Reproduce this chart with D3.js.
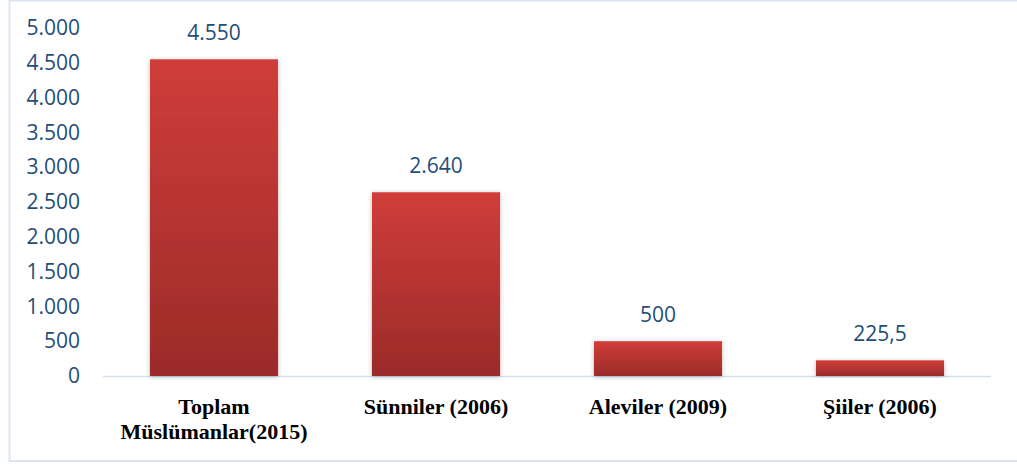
<!DOCTYPE html>
<html>
<head>
<meta charset="utf-8">
<script src="https://cdn.jsdelivr.net/npm/d3@7"></script>
<style>
  body { margin: 0; background: #fff; }
  svg { display: block; }
</style>
</head>
<body>
<svg id="chart" width="1017" height="464"></svg>
<script>
const categories = [["Toplam", "Müslümanlar(2015)"], ["Sünniler (2006)"], ["Aleviler (2009)"], ["Şiiler (2006)"]]
const values = [4550, 2640, 500, 225.5]
const valueLabels = ["4.550", "2.640", "500", "225,5"]
const yTicks = [0, 500, 1000, 1500, 2000, 2500, 3000, 3500, 4000, 4500, 5000]

const svg = d3.select('#chart')

// chart frame
svg.append('rect')
  .attr('x', 9.5).attr('y', 0.5)
  .attr('width', 1020).attr('height', 460.5)
  .attr('fill', 'none')
  .attr('stroke', '#dbe4f1')
  .attr('stroke-width', 2)

const x = d3.scaleBand().domain(d3.range(categories.length)).range([103, 991]).paddingInner(0.423).paddingOuter(0.2115)
const y = d3.scaleLinear().domain([0, 5000]).range([376, 28])

const defs = svg.append('defs')
const grad = defs.append('linearGradient')
  .attr('id', 'barGrad').attr('x1', 0).attr('y1', 0).attr('x2', 0).attr('y2', 1)
grad.append('stop').attr('offset', '0%').attr('stop-color', '#d03d3a')
grad.append('stop').attr('offset', '100%').attr('stop-color', '#9b2b29')

const shadow = defs.append('filter').attr('id', 'shadow')
  .attr('x', '-10%').attr('y', '-10%').attr('width', '120%').attr('height', '120%')
shadow.append('feDropShadow')
  .attr('dx', 0).attr('dy', 1).attr('stdDeviation', 2.5)
  .attr('flood-color', '#000').attr('flood-opacity', 0.25)

// baseline
svg.append('line')
  .attr('x1', 103).attr('x2', 991)
  .attr('y1', y(0) + 0.5).attr('y2', y(0) + 0.5)
  .attr('stroke', '#d5dff0').attr('stroke-width', 1.5)

const sans = '"Open Sans", "Noto Sans", sans-serif'
const serif = '"Liberation Serif", "Times New Roman", serif'

// y axis
const yAxis = d3.axisLeft(y).tickValues(yTicks).tickSize(0).tickPadding(0)
  .tickFormat(d => d3.format(',')(d).replace(/,/g, '.'))
svg.append('g')
  .attr('transform', 'translate(80,0)')
  .call(yAxis)
  .call(g => g.select('.domain').remove())
  .selectAll('text')
  .attr('fill', '#1f4e79')
  .style('font-family', sans)
  .style('font-size', '21px')

// bars
svg.selectAll('.bar')
  .data(values)
  .enter()
  .append('rect')
  .attr('class', 'bar')
  .attr('x', (d, i) => x(i))
  .attr('y', d => y(d))
  .attr('width', x.bandwidth())
  .attr('height', d => y(0) - y(d))
  .attr('fill', 'url(#barGrad)')
  .attr('filter', 'url(#shadow)')

// value labels
svg.selectAll('.val')
  .data(values)
  .enter()
  .append('text')
  .attr('class', 'val')
  .attr('x', (d, i) => x(i) + x.bandwidth() / 2)
  .attr('y', d => y(d) - 19)
  .attr('text-anchor', 'middle')
  .attr('fill', '#1f4e79')
  .style('font-family', sans)
  .style('font-size', '21px')
  .text((d, i) => valueLabels[i])

// category labels
const cat = svg.selectAll('.cat')
  .data(categories)
  .enter()
  .append('text')
  .attr('class', 'cat')
  .attr('x', (d, i) => x(i) + x.bandwidth() / 2)
  .attr('y', 414)
  .attr('text-anchor', 'middle')
  .style('font-family', serif)
  .style('font-weight', 'bold')
  .style('font-size', '22px')
  .attr('fill', '#000')

cat.selectAll('tspan')
  .data(d => d)
  .enter()
  .append('tspan')
  .attr('x', function () { return d3.select(this.parentNode).attr('x') })
  .attr('dy', (d, i) => i === 0 ? 0 : 25)
  .text(d => d)
</script>
</body>
</html>
